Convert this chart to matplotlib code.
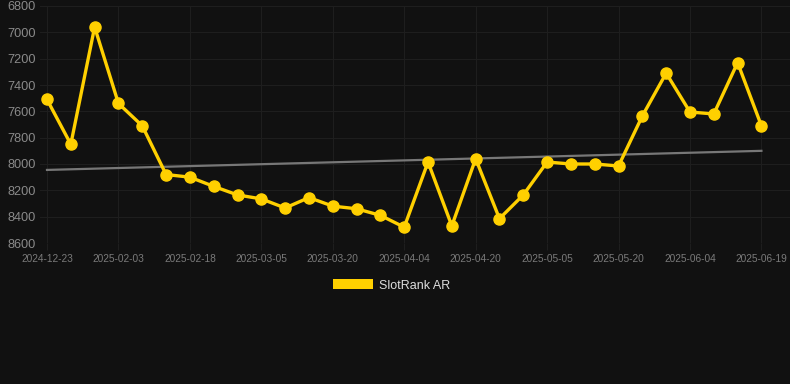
import matplotlib
matplotlib.use("Agg")
import matplotlib.pyplot as plt
from matplotlib.patches import Rectangle
import numpy as np

dates = ["2024-12-23", "2025-01-08", "2025-01-24", "2025-02-03", "2025-02-08", "2025-02-13",
         "2025-02-18", "2025-02-23", "2025-02-28", "2025-03-05", "2025-03-10", "2025-03-15",
         "2025-03-20", "2025-03-25", "2025-03-30", "2025-04-04", "2025-04-09", "2025-04-15",
         "2025-04-20", "2025-04-25", "2025-04-30", "2025-05-05", "2025-05-10", "2025-05-15",
         "2025-05-20", "2025-05-25", "2025-05-30", "2025-06-04", "2025-06-09", "2025-06-14",
         "2025-06-19"]
rank = [7510, 7850, 6960, 7540, 7710, 8080, 8100, 8170, 8235, 8265, 8334, 8255,
        8320, 8340, 8390, 8480, 7985, 8470, 7960, 8415, 8235, 7985, 8000, 8000,
        8015, 7635, 7310, 7605, 7620, 7230, 7710]
trend_ends = [8045, 7900]
y_ticks = [6800, 7000, 7200, 7400, 7600, 7800, 8000, 8200, 8400, 8600]
series_name = "SlotRank AR"

BG = "#111111"
GOLD = "#FFD000"

fig = plt.figure(figsize=(7.9, 3.84), dpi=100, facecolor=BG)
ax = fig.add_axes([40/790, 1-243/384, 750/790, (243-6)/384])
ax.set_facecolor(BG)

x = np.arange(len(dates))
ax.plot([x[0], x[-1]], trend_ends, color="#777777", lw=1.6, zorder=2)
ax.plot(x, rank, color=GOLD, lw=2.4, marker="o", ms=8, zorder=3, solid_joinstyle="round")

ax.set_ylim(8600, 6800)
ax.set_xlim(-0.294, 31.2)
ax.set_yticks(y_ticks)
ax.set_yticklabels([str(v) for v in y_ticks], fontsize=9.2, color="#8a8a8a", family="Liberation Sans")
xt = x[::3]
ax.set_xticks(xt)
ax.set_xticklabels([dates[i] for i in xt], fontsize=7.3, color="#7a7a7a", family="Liberation Sans")
ax.tick_params(axis="y", length=0, pad=3)
ax.tick_params(axis="x", length=5, color="#1e1e1e", pad=3)
ax.grid(True, color="#1e1e1e", lw=0.8)
for s in ax.spines.values():
    s.set_visible(False)
ax.set_axisbelow(True)

fig.patches.append(Rectangle((333/790, 1-289/384), 40/790, 10/384, transform=fig.transFigure,
                             facecolor=GOLD, edgecolor="none"))
fig.text(379/790, 1-286/384, series_name, color="#dddddd", fontsize=9, va="center", ha="left",
         family="Liberation Sans")

fig.savefig("out.png", dpi=100, facecolor=BG)
